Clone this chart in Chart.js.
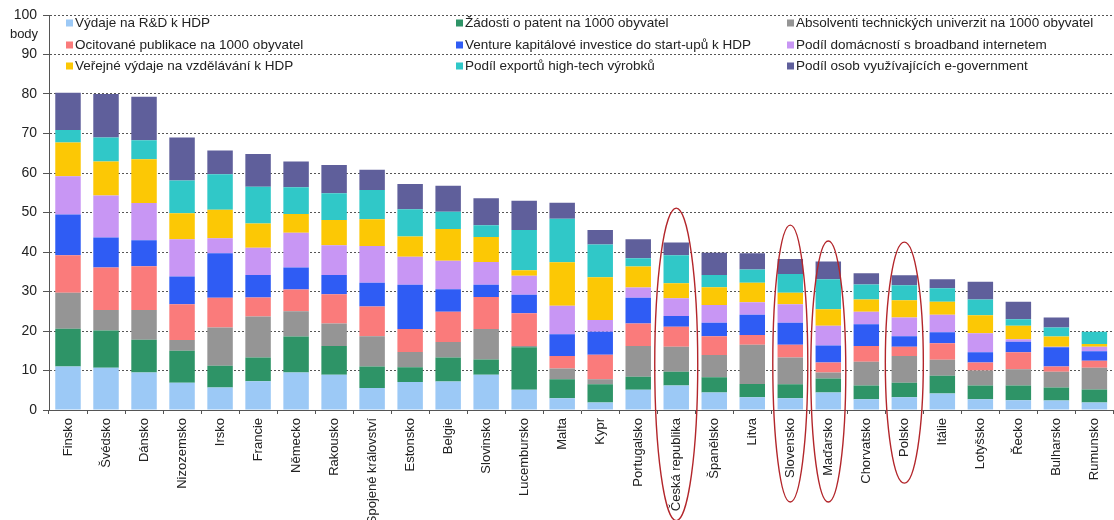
<!DOCTYPE html>
<html lang="cs">
<head>
<meta charset="utf-8">
<title>Inovační výkonnost zemí EU</title>
<script src="https://cdn.jsdelivr.net/npm/chart.js@4.4.1/dist/chart.umd.min.js"></script>
<style>
  html, body { margin: 0; padding: 0; background: #fff; }
  canvas { display: block; }
</style>
</head>
<body>
<canvas id="chart" width="1114" height="520"></canvas>
<script>
// Země seřazené podle celkového skóre
const countries = ['Finsko', 'Švédsko', 'Dánsko', 'Nizozemsko', 'Irsko', 'Francie', 'Německo', 'Rakousko',
  'Spojené království', 'Estonsko', 'Belgie', 'Slovinsko', 'Lucembursko', 'Malta', 'Kypr', 'Portugalsko',
  'Česká republika', 'Španělsko', 'Litva', 'Slovensko', 'Maďarsko', 'Chorvatsko', 'Polsko', 'Itálie',
  'Lotyšsko', 'Řecko', 'Bulharsko', 'Rumunsko'];

// Dílčí ukazatele (body)
const vydajeRD =      [11.0, 10.7, 9.5, 6.9, 5.7, 7.3, 9.5, 8.9, 5.6, 7.1, 7.2, 8.9, 5.1, 3.0, 1.9, 5.1, 6.2, 4.4, 3.2, 3.0, 4.4, 2.7, 3.2, 4.2, 2.7, 2.5, 2.4, 1.9];
const patenty =       [9.6, 9.4, 8.3, 8.1, 5.5, 6.0, 9.1, 7.3, 5.4, 3.7, 6.1, 3.9, 10.8, 4.8, 4.6, 3.3, 3.5, 3.9, 3.4, 3.5, 3.6, 3.5, 3.7, 4.5, 3.5, 3.7, 3.3, 3.3];
const absolventi =    [9.1, 5.2, 7.5, 2.7, 9.7, 10.4, 6.4, 5.7, 7.7, 3.9, 3.9, 7.7, 0.3, 2.7, 1.3, 7.8, 6.3, 5.6, 9.9, 6.8, 1.5, 6.0, 6.8, 4.0, 3.8, 4.1, 4.0, 5.5];
const publikace =     [9.5, 10.8, 11.1, 9.1, 7.5, 4.8, 5.5, 7.4, 7.5, 5.8, 7.7, 8.1, 8.3, 3.2, 6.2, 5.7, 5.1, 4.8, 2.5, 3.2, 2.5, 4.0, 2.3, 4.2, 2.0, 4.3, 1.3, 1.8];
const venture =       [10.3, 7.6, 6.6, 7.0, 11.3, 5.7, 5.6, 4.9, 6.0, 11.2, 5.7, 3.1, 4.7, 5.5, 5.8, 6.5, 2.7, 3.4, 5.1, 5.6, 4.3, 5.5, 2.7, 2.8, 2.6, 2.7, 4.9, 2.4];
const broadband =     [9.7, 10.6, 9.4, 9.4, 3.8, 6.9, 8.8, 7.5, 9.3, 7.1, 7.2, 5.8, 4.8, 7.2, 3.0, 2.6, 4.5, 4.5, 3.2, 4.7, 5.0, 3.2, 4.7, 4.4, 4.8, 0.6, 0.1, 1.1];
const vzdelavani =    [8.5, 8.6, 11.1, 6.6, 7.2, 6.1, 4.7, 6.4, 6.8, 5.1, 8.0, 6.3, 1.4, 11.0, 10.8, 5.3, 3.8, 4.5, 4.9, 2.9, 4.2, 3.1, 4.4, 3.3, 4.6, 3.4, 2.6, 0.7];
const exportHT =      [3.2, 6.1, 4.8, 8.3, 9.0, 9.3, 6.8, 6.8, 7.4, 6.9, 4.4, 3.0, 10.2, 11.0, 8.3, 2.1, 7.1, 3.1, 3.4, 4.7, 7.6, 3.8, 3.8, 3.4, 4.0, 1.7, 2.3, 3.1];
const egov =          [9.4, 11.0, 11.0, 10.9, 6.0, 8.3, 6.5, 7.1, 5.1, 6.4, 6.6, 6.8, 7.4, 4.1, 3.7, 4.8, 3.2, 5.6, 4.1, 3.8, 4.5, 2.8, 2.5, 2.3, 4.5, 4.4, 2.5, 0.0];

const seriesNames = ['Výdaje na R&D k HDP', 'Žádosti o patent na 1000 obyvatel', 'Absolventi technických univerzit na 1000 obyvatel',
  'Ocitované publikace na 1000 obyvatel', 'Venture kapitálové investice do start-upů k HDP', 'Podíl domácností s broadband internetem',
  'Veřejné výdaje na vzdělávání k HDP', 'Podíl exportů high-tech výrobků', 'Podíl osob využívajících e-government'];
const seriesValues = [vydajeRD, patenty, absolventi, publikace, venture, broadband, vzdelavani, exportHT, egov];
const seriesColors = ['#9cc9f6', '#2e9467', '#959595', '#fa7b7b', '#2f5cf4', '#c896f4', '#fcc805', '#30c8c8', '#5f5f9b'];

const yTicks = [0, 10, 20, 30, 40, 50, 60, 70, 80, 90, 100];

// Zvýrazněné země (elipsy), svislý rozsah v jednotkách osy y
const highlights = [
  { country: 'Česká republika', top: 51.1, bottom: -28.0, rx: 21.5 },
  { country: 'Slovensko', top: 46.8, bottom: -23.3, rx: 17.5 },
  { country: 'Maďarsko', top: 42.8, bottom: -23.3, rx: 17.5 },
  { country: 'Polsko', top: 42.5, bottom: -18.5, rx: 19 }
];

const FONT = '"Liberation Sans", Arial, Helvetica, sans-serif';

// Legenda ve třech sloupcích uvnitř grafu
const gridLegend = {
  id: 'gridLegend',
  afterDatasetsDraw(chart, args, opts) {
    const ctx = chart.ctx;
    ctx.save();
    ctx.font = '13.5px ' + FONT;
    ctx.textBaseline = 'middle';
    ctx.textAlign = 'left';
    chart.data.datasets.forEach((ds, i) => {
      const x = opts.columns[i % 3];
      const y = opts.rows[Math.floor(i / 3)];
      ctx.fillStyle = ds.backgroundColor;
      ctx.fillRect(x, y - 3.5, 7, 7);
      ctx.fillStyle = '#222';
      ctx.fillText(ds.label, x + 9, y + 0.5);
    });
    ctx.restore();
  }
};

// Jednotka osy y
const unitLabel = {
  id: 'unitLabel',
  afterDraw(chart, args, opts) {
    const ctx = chart.ctx;
    ctx.save();
    ctx.font = '13px ' + FONT;
    ctx.fillStyle = '#222';
    ctx.textAlign = 'center';
    ctx.textBaseline = 'middle';
    ctx.fillText(opts.text, opts.x, opts.y);
    ctx.restore();
  }
};

// Elipsy kolem vybraných zemí
const ellipses = {
  id: 'ellipses',
  afterDraw(chart, args, opts) {
    const ctx = chart.ctx;
    const xs = chart.scales.x, ys = chart.scales.y;
    ctx.save();
    ctx.strokeStyle = opts.color;
    ctx.lineWidth = opts.width;
    opts.items.forEach(h => {
      const idx = countries.indexOf(h.country);
      const cx = xs.getPixelForValue(idx);
      const yTop = ys.getPixelForValue(h.top);
      const yBot = ys.getPixelForValue(h.bottom);
      ctx.beginPath();
      ctx.ellipse(cx, (yTop + yBot) / 2, h.rx, (yBot - yTop) / 2, 0, 0, Math.PI * 2);
      ctx.stroke();
    });
    ctx.restore();
  }
};

new Chart(document.getElementById('chart'), {
  type: 'bar',
  data: {
    labels: countries,
    datasets: seriesNames.map((name, i) => ({
      label: name,
      data: seriesValues[i],
      backgroundColor: seriesColors[i],
      borderWidth: 0,
      categoryPercentage: 1,
      barPercentage: 0.67
    }))
  },
  options: {
    responsive: false,
    animation: false,
    devicePixelRatio: 1,
    layout: { padding: { top: 15, right: 0, bottom: 0, left: 0 } },
    plugins: {
      legend: { display: false },
      tooltip: { enabled: false },
      gridLegend: { columns: [66, 456, 787], rows: [23, 45, 66] },
      unitLabel: { text: 'body', x: 24, y: 34 },
      ellipses: { items: highlights, color: '#b3262b', width: 1.4 }
    },
    scales: {
      x: {
        stacked: true,
        offset: true,
        grid: { display: true, drawOnChartArea: false, offset: true, tickLength: 4, tickColor: '#555', color: '#555' },
        border: { display: true, color: '#555', width: 1 },
        ticks: {
          autoSkip: false, minRotation: 90, maxRotation: 90, padding: 4,
          color: '#222', font: { family: FONT, size: 13 }
        },
        afterFit(scale) { scale.height = 110; }
      },
      y: {
        stacked: true,
        min: 0, max: 100,
        afterBuildTicks(scale) { scale.ticks = yTicks.map(v => ({ value: v })); },
        ticks: { padding: 6, color: '#222', font: { family: FONT, size: 14 } },
        grid: { color: '#555', lineWidth: 1, tickLength: 6, tickColor: '#555' },
        border: { display: true, color: '#555', width: 1, dash: [2, 2] },
        afterFit(scale) { scale.width = 49; }
      }
    }
  },
  plugins: [gridLegend, unitLabel, ellipses]
});
</script>
</body>
</html>
